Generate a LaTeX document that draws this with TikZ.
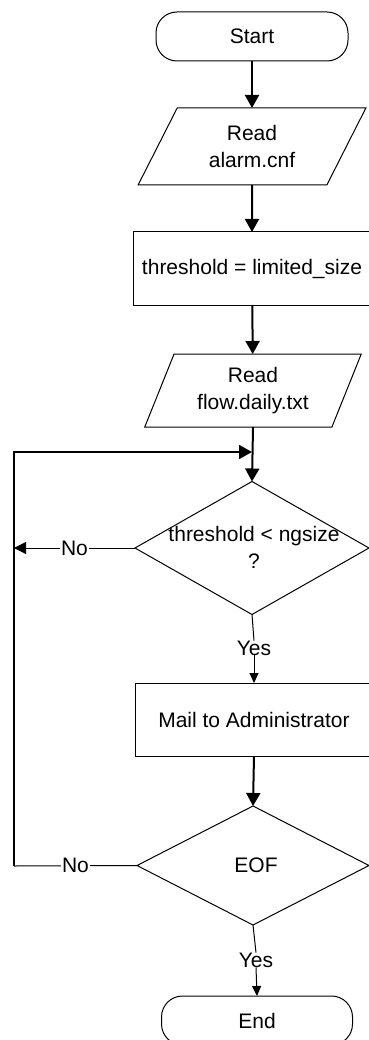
\documentclass[tikz,border=0pt]{standalone}
\usepackage{fontspec}
\setmainfont{Liberation Sans}
\usetikzlibrary{shapes.geometric,arrows.meta}
\begin{document}
\begin{tikzpicture}[x=1pt,y=-1pt,
  font=\fontsize{21}{27}\selectfont,
  every node/.style={inner sep=0pt,outer sep=0pt},
  term/.style={draw,line width=1pt,rectangle,rounded corners=21pt,minimum width=192pt,minimum height=49pt},
  inbox/.style={draw,line width=1pt,trapezium,trapezium stretches=true,align=center},
  procbox/.style={draw,line width=1pt,rectangle,minimum width=238pt,minimum height=73pt},
  decision/.style={draw,line width=1pt,diamond},
  txt/.style={align=center},
  lbl/.style={fill=white,inner sep=1pt},
  mainarrow/.style={line width=2pt,-{Triangle[length=13pt,width=14pt]}},
  smallarrow/.style={line width=1pt,-{Triangle[length=10pt,width=9pt]}},
  thinline/.style={line width=1pt},
  loopline/.style={line width=1.8pt}
]
\useasboundingbox (0,0) rectangle (368,1040);

\node[term] (start) at (252,36.5) {Start};
\node[inbox,trapezium left angle=62,trapezium right angle=118,minimum width=228pt,minimum height=77pt] (p1) at (252,146.5) {Read\\alarm.cnf};
\node[procbox] (r1) at (252,268.5) {threshold = limited\_size};
\node[inbox,trapezium left angle=66,trapezium right angle=114,minimum width=217pt,minimum height=73pt] (p2) at (253,390.5) {Read\\flow.daily.txt};
\node[decision,minimum width=234pt,minimum height=133pt] (d1) at (252,548) {};
\node[txt] (d1t) at (254,547) {threshold < ngsize\\?};
\node[txt] (yes1) at (254,648) {Yes};
\node[procbox] (r2) at (254,719.5) {Mail to Administrator};
\node[decision,minimum width=232pt,minimum height=119pt] (d2) at (253,865.5) {};
\node[txt] (d2t) at (256,865.5) {EOF};
\node[txt] (yes2) at (256,960) {Yes};
\node[term,minimum width=191pt] (end) at (257,1020.5) {End};

\coordinate (nl1) at (14,548);
\coordinate (lc1) at (14,866);
\coordinate (lc2) at (14,452);
\coordinate (merge) at (252,452);

\draw[mainarrow] (start) -- (p1);
\draw[mainarrow] (p1) -- (r1);
\draw[mainarrow] (r1) -- (p2);
\draw[mainarrow] (p2.south) -- (d1.north);
\draw[thinline] (d1.south) -- (yes1.north);
\draw[smallarrow] (yes1.south) -- (r2.north);
\draw[mainarrow] (r2.south) -- (d2.north);
\draw[thinline] (d2.south) -- (yes2.north);
\draw[smallarrow] (yes2.south) -- (end.north);

\draw[thinline,-{Triangle[length=12pt,width=12pt]}] (d1.west) -- node[lbl] (no1) {No} (nl1);
\draw[thinline] (d2.west) -- node[lbl] (no2) {No} (lc1);
\draw[loopline,-{Triangle[length=13pt,width=14pt]}] (lc1) -- (lc2) -- (merge);
\end{tikzpicture}
\end{document}
